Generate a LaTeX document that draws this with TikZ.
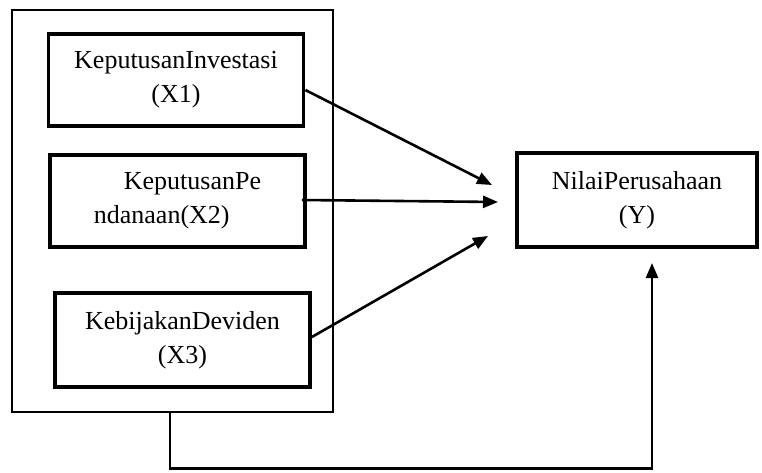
\documentclass[tikz,border=0pt]{standalone}
\usepackage{fontspec}
\setmainfont{Liberation Serif}
\usetikzlibrary{arrows.meta}
\tikzset{
  kotakx/.style={draw, line width=3.8pt, inner sep=0pt, align=center,
    minimum width=255pt, minimum height=92pt},
  kotaky/.style={draw, line width=3.2pt, inner sep=0pt, align=center,
    minimum width=240pt, minimum height=94pt},
  panah/.style={line width=2.6pt, -{Triangle[length=15pt,width=12pt]}}
}
\begin{document}
\begin{tikzpicture}[x=1pt,y=-1pt,font=\fontsize{26}{34}\selectfont]
  \useasboundingbox (0,0) rectangle (762,472);

  % kotak luar
  \node[draw, line width=2.4pt, minimum width=321pt, minimum height=402pt] (kotak) at (172.5,211) {};

  % X1, X2, X3
  \node[kotakx] (x1) at (176,80) {KeputusanInvestasi\\(X1)};
  \node[kotakx, align=left] (x2) at (177.5,201) {\hspace*{30pt}KeputusanPe\\ndanaan(X2)};
  \node[kotakx, minimum height=94pt] (x3) at (182.5,340) {KebijakanDeviden\\(X3)};

  % Y
  \node[kotaky] (y) at (637,200) {NilaiPerusahaan\\(Y)};

  % ujung panah
  \coordinate (t1) at (492,185);
  \coordinate (t2) at (498,202);
  \coordinate (t3) at (488,236);
  \coordinate (t4) at (652,263);

  % panah
  \draw[panah] ([yshift=-10pt]x1.east) -- (t1);
  \draw[panah] ([xshift=-5pt,yshift=1pt]x2.east) -- (t2);
  \draw[panah] ([yshift=3pt]x3.east) -- (t3);
  \draw[panah] ([xshift=-2.5pt]kotak.south) -- ++(0,55) -| (t4);

\end{tikzpicture}
\end{document}
